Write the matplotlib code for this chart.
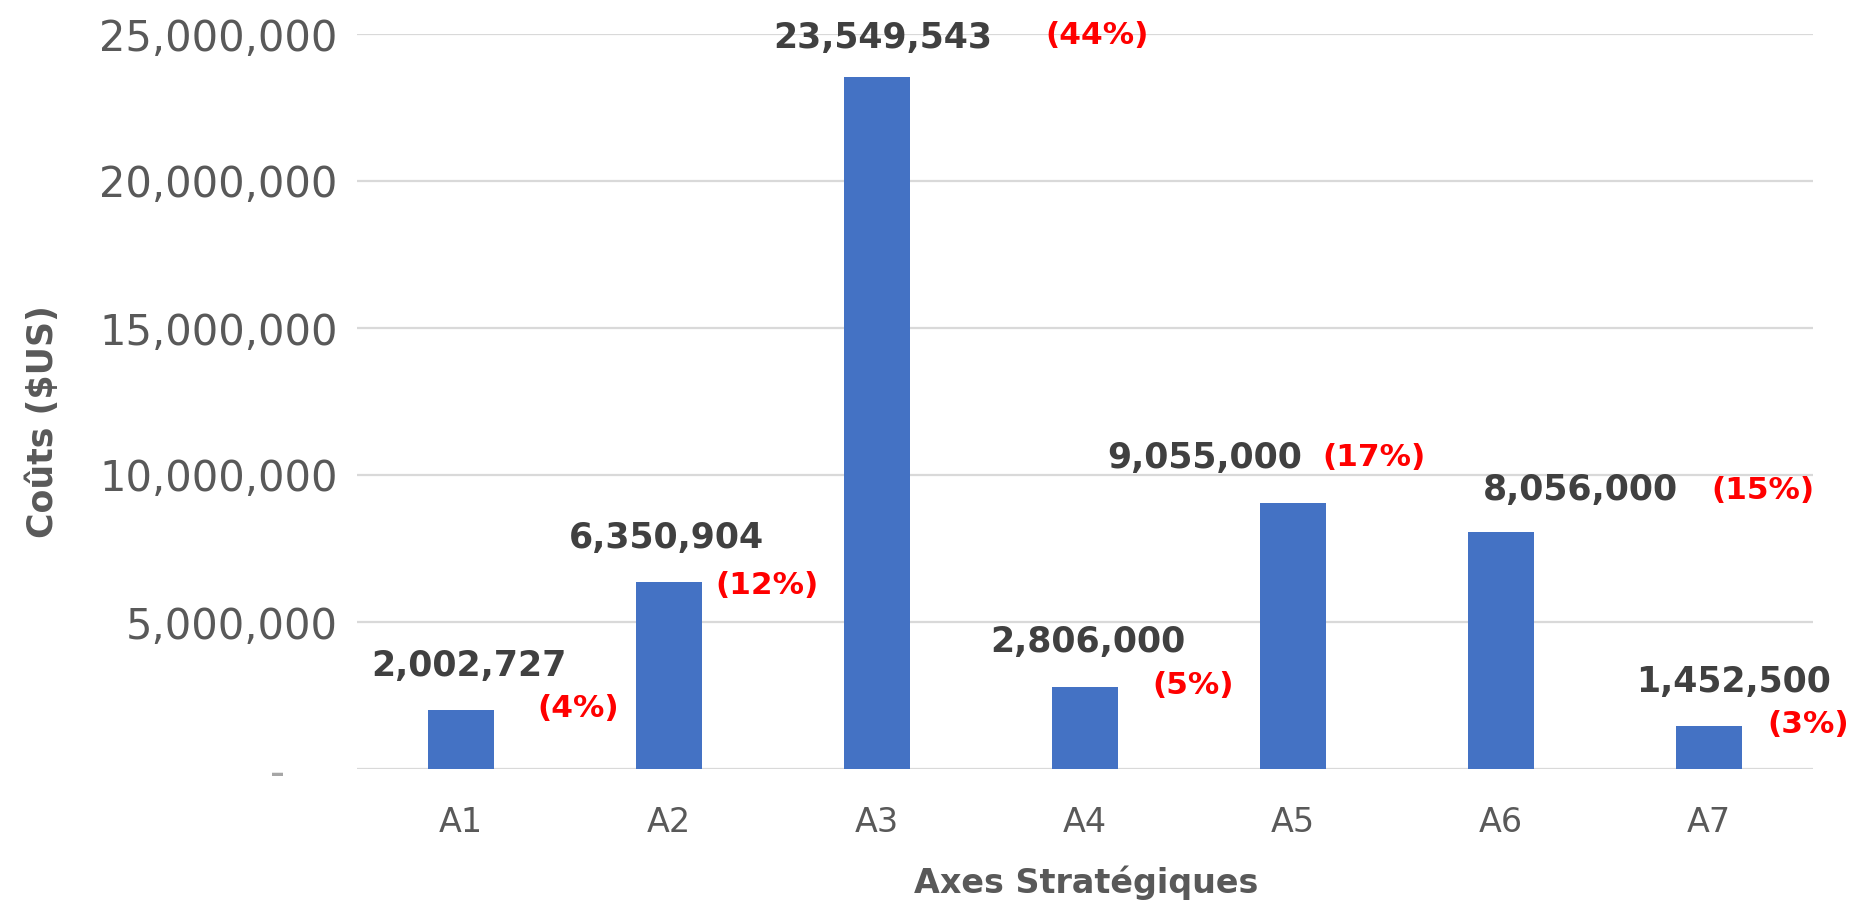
import matplotlib
matplotlib.use("Agg")
import matplotlib.pyplot as plt
from matplotlib.ticker import FuncFormatter, MultipleLocator

categories = ["A1", "A2", "A3", "A4", "A5", "A6", "A7"]
costs = [2002727, 6350904, 23549543, 2806000, 9055000, 8056000, 1452500]
shares = ["(4%)", "(12%)", "(44%)", "(5%)", "(17%)", "(15%)", "(3%)"]

# label placement (pixel offsets from bar top-centre)
val_dx = [8, -3, 6, 3, -88, 79, 25]
val_dy = [44, 44, 39, 45, 45, 42, 44]
pct_dx = [117, 98, 220, 108, 81, 262, 99]
pct_dy = [2, -3, 41, 1, 45, 42, 2]

W, H = 1865, 909
fig = plt.figure(figsize=(W / 100, H / 100), dpi=100)
ax = fig.add_axes([357 / W, 1 - 769 / H, (1813 - 357) / W, (769 - 34) / H])

x = list(range(len(categories)))
ax.bar(x, costs, width=0.32, color="#4472C4", linewidth=0, zorder=3)
ax.set_xlim(-0.5, len(categories) - 0.5)
ax.set_ylim(0, 25000000)
ax.yaxis.set_major_locator(MultipleLocator(5000000))
ax.grid(axis="y", color="#d9d9d9", linewidth=1.6, zorder=0)
ax.set_axisbelow(True)
for s in ax.spines.values():
    s.set_visible(False)

def fmt(v, pos):
    if abs(v) < 1:
        return "-\u2007\u2007"
    return f"{int(v):,}"

ax.yaxis.set_major_formatter(FuncFormatter(fmt))
ax.tick_params(axis="y", length=0, pad=14, labelsize=30, labelcolor="#595959")
ax.set_xticks(x)
ax.set_xticklabels(categories)
ax.tick_params(axis="x", length=0, pad=27, labelsize=24, labelcolor="#595959")
for lbl in ax.get_yticklabels():
    if lbl.get_text().startswith("-"):
        lbl.set_color("#a6a6a6")

for i, v in enumerate(costs):
    ax.annotate(f"{v:,}", xy=(i, v), xytext=(val_dx[i], val_dy[i]),
                textcoords="offset pixels", ha="center", va="center",
                fontsize=25, fontweight="bold", color="#404040", zorder=5,
                annotation_clip=False)
    ax.annotate(shares[i], xy=(i, v), xytext=(pct_dx[i], pct_dy[i]),
                textcoords="offset pixels", ha="center", va="center",
                fontsize=22.5, fontweight="bold", color="#FF0000", zorder=5,
                annotation_clip=False)

fig.text(1086 / W, 1 - 883 / H, "Axes Stratégiques", ha="center", va="center",
         fontsize=24, fontweight="bold", color="#595959")
fig.text(43 / W, 1 - 422 / H, "Coûts ($US)", ha="center", va="center",
         rotation=90, fontsize=25, fontweight="bold", color="#595959")

fig.savefig("out.png", dpi=100)
